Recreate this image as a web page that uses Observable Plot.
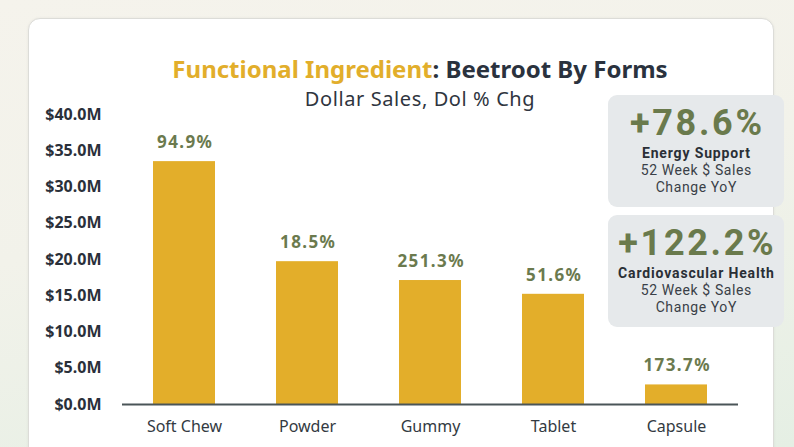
<!DOCTYPE html>
<html>
<head>
<meta charset="utf-8">
<script src="https://cdn.jsdelivr.net/npm/d3@7"></script>
<script src="https://cdn.jsdelivr.net/npm/@observablehq/plot@0.6"></script>
<style>
  html, body { margin: 0; padding: 0; }
  body {
    width: 794px; height: 447px; overflow: hidden; position: relative;
    font-family: "Noto Sans", Roboto, sans-serif;
    background: linear-gradient(170deg, #F5F3EC 0%, #F2F2EA 45%, #E5EFE4 100%);
  }
  #card {
    position: absolute; left: 28px; top: 18px; width: 744px; height: 460px;
    background: #fff; border: 1px solid #DCDCD8; border-radius: 12px;
    box-shadow: 0 0 3px rgba(0,0,0,0.06);
  }
  #chart { position: absolute; left: 0; top: 0; }
  #chart g[aria-label="text"] text { letter-spacing: 1.4px; }
  #title {
    position: absolute; left: 0; width: 840px; top: 53px; text-align: center;
    font-size: 24px; font-weight: 700; color: #2A323E; line-height: 32px;
  }
  #title .hl { color: #E2AE2B; }
  #subtitle {
    position: absolute; left: 0; width: 840px; top: 86px; text-align: center;
    font-size: 20px; letter-spacing: 0.6px; color: #2F3540; line-height: 26px;
  }
  .box {
    position: absolute; left: 608px; width: 176px; height: 112px;
    background: #E6E9EB; border-radius: 9px; text-align: center; color: #2F3540;
    font-family: Roboto, sans-serif;
  }
  .box div { position: absolute; left: 0; width: 176px; white-space: nowrap; }
  .box .big { top: 7px; font-size: 36px; line-height: 42px; font-weight: 700; color: #6A7A4C;
    letter-spacing: 2.7px; padding-left: 2.7px; box-sizing: border-box; }
  .box .name { top: 49.5px; font-size: 14px; line-height: 17px; font-weight: 700; color: #2A2F36;
    letter-spacing: 0.85px; padding-left: 0.85px; box-sizing: border-box; }
  .box .sub { font-size: 14px; line-height: 17px; color: #3A3F47;
    letter-spacing: 0.6px; padding-left: 0.6px; box-sizing: border-box; }
  .box .s1 { top: 66.5px; }
  .box .s2 { top: 83.5px; }
</style>
</head>
<body>
<div id="card"></div>
<div id="chart"></div>
<div id="title"><span class="hl">Functional Ingredient</span>: Beetroot By Forms</div>
<div id="subtitle">Dollar Sales, Dol % Chg</div>
<div class="box" style="top:95px">
  <div class="big">+78.6%</div>
  <div class="name">Energy Support</div>
  <div class="sub s1">52 Week $ Sales</div>
  <div class="sub s2">Change YoY</div>
</div>
<div class="box" style="top:215px">
  <div class="big">+122.2%</div>
  <div class="name">Cardiovascular Health</div>
  <div class="sub s1">52 Week $ Sales</div>
  <div class="sub s2">Change YoY</div>
</div>
<script>
const forms = ["Soft Chew", "Powder", "Gummy", "Tablet", "Capsule"];
const salesM = [33.5, 19.7, 17.1, 15.2, 2.7];
const pctChg = ["94.9%", "18.5%", "251.3%", "51.6%", "173.7%"];
const yTicks = [0, 5, 10, 15, 20, 25, 30, 35, 40];

const data = forms.map((f, i) => ({form: f, sales: salesM[i], pct: pctChg[i]}));

const chart = Plot.plot({
  width: 794,
  height: 447,
  marginLeft: 122,
  marginRight: 56,
  marginTop: 114,
  marginBottom: 43,
  style: {background: "transparent", fontFamily: "'Noto Sans', Roboto, sans-serif"},
  x: {domain: forms, paddingInner: 0.5, paddingOuter: 0.25, label: null},
  y: {domain: [0, 40], label: null},
  marks: [
    Plot.barY(data, {x: "form", y: "sales", fill: "#E3AE2A"}),
    Plot.ruleY([0], {stroke: "#4A5558", strokeWidth: 2}),
    Plot.text(data, {x: "form", y: "sales", text: "pct", dy: -19, dx: 0.7, fill: "#6B7A4E",
      fontSize: 17, fontWeight: 700}),
    Plot.axisY({ticks: yTicks, tickSize: 0, tickPadding: 21, label: null,
      tickFormat: d => "$" + d.toFixed(1) + "M", fontSize: 16, fontWeight: 700, fill: "#2A303A"}),
    Plot.axisX({tickSize: 0, tickPadding: 16, label: null, fontSize: 16, fill: "#333A42"})
  ]
});
document.getElementById("chart").appendChild(chart);
</script>
</body>
</html>
